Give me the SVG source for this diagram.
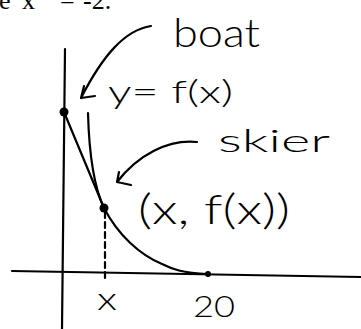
<svg xmlns="http://www.w3.org/2000/svg" width="361" height="329" viewBox="0 0 361 329">
<style>
.ln{fill:none;stroke:#000;stroke-width:2.2;stroke-linecap:round;stroke-linejoin:round}
.hw{font-family:Lato,"Liberation Sans",Arial,sans-serif;font-weight:300;fill:#000}
.tt{font-family:"Liberation Serif","Times New Roman",serif;fill:#000}
</style>
<rect width="361" height="329" fill="#fff"/>
<g id="caption"><text class="tt" font-size="26" y="9"><tspan x="-1">e</tspan><tspan x="22">x</tspan><tspan x="60">=</tspan><tspan x="83">-2.</tspan></text></g>
<g id="connectors">
<path class="ln" d="M65,49 L62,329"/>
<path class="ln" d="M12,271 L361,277"/>
<path class="ln" d="M64,112 L104,208"/>
<path class="ln" d="M88,113 C89,150 93,185 104,208 C118,235 140,255 162,264 C172,269 182,273 208,274"/>
<path class="ln" stroke-dasharray="6,4" d="M105,212 L105,281"/>
<path class="ln" d="M151,26 C125,30 103,55 81,98 M81,98 L84,86 M81,98 L95,96"/>
<path class="ln" d="M197,142 C168,139 138,155 117,182 M117,182 L119,172 M117,182 L131,185"/>
</g>
<g id="boat"><circle cx="64" cy="112" r="4.5"/><text class="hw" x="173" y="47" font-size="40" textLength="87" lengthAdjust="spacingAndGlyphs">boat</text></g>
<g id="curve-label"><text class="hw" x="108" y="103" font-size="31" textLength="125" lengthAdjust="spacingAndGlyphs">y= f(x)</text></g>
<g id="skier"><circle cx="104" cy="208" r="4.5"/><text class="hw" x="218" y="152" font-size="31" textLength="112" lengthAdjust="spacingAndGlyphs">skier</text><text class="hw" x="138" y="224" font-size="42" textLength="152" lengthAdjust="spacingAndGlyphs">(x, f(x))</text></g>
<g id="x-mark"><text class="hw" x="97" y="310" font-size="32" textLength="20" lengthAdjust="spacingAndGlyphs">x</text></g>
<g id="end-point"><circle cx="208" cy="274" r="3"/><text class="hw" x="193" y="317" font-size="30" textLength="42" lengthAdjust="spacingAndGlyphs">20</text></g>
</svg>
